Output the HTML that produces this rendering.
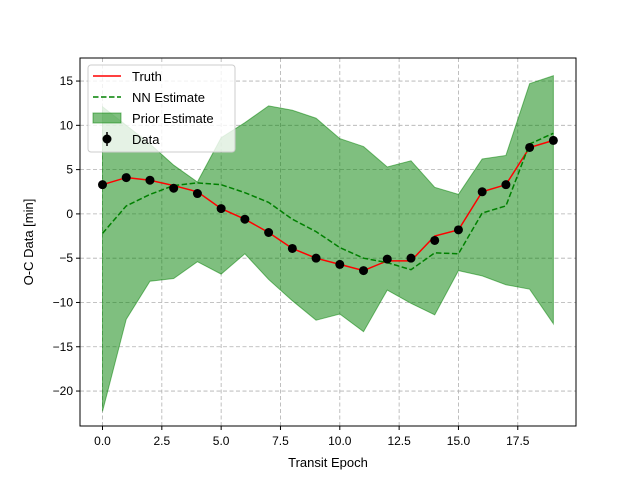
<!DOCTYPE html>
<html><head><meta charset="utf-8"><style>body{margin:0;background:#fff}svg{font-family:"Liberation Sans","DejaVu Sans",sans-serif}</style></head>
<body>
<svg id="chart" width="640" height="480" viewBox="0 0 640 480">
<g id="grid"></g>
<g id="marks"></g>
<rect x="80" y="58" width="496" height="368" fill="none" stroke="#000" stroke-width="1"/>
<g id="ticks"></g>
<text x="328" y="467" font-size="13" text-anchor="middle">Transit Epoch</text>
<text x="33" y="242" font-size="13" text-anchor="middle" transform="rotate(-90 33 242)">O-C Data [min]</text>
<g>
<rect x="88" y="65" width="147" height="87" rx="3" fill="#fff" fill-opacity="0.8" stroke="#ccc"/>
<line x1="93" y1="76" x2="121" y2="76" stroke="red" stroke-width="1.5"/>
<text x="132" y="81" font-size="13">Truth</text>
<line x1="93" y1="97" x2="121" y2="97" stroke="green" stroke-width="1.5" stroke-dasharray="5.5,2.5"/>
<text x="132" y="102" font-size="13">NN Estimate</text>
<rect x="93" y="113" width="28" height="10" fill="green" fill-opacity="0.5" stroke="green" stroke-opacity="0.5"/>
<text x="132" y="123" font-size="13">Prior Estimate</text>
<line x1="107" y1="132" x2="107" y2="146" stroke="#000" stroke-width="1.5"/>
<circle cx="107" cy="139" r="4.5" fill="#000"/>
<text x="132" y="144" font-size="13">Data</text>
</g>
</svg>
<script>
const epochs=[0,1,2,3,4,5,6,7,8,9,10,11,12,13,14,15,16,17,18,19];
const dataVals=[3.3,4.1,3.8,2.9,2.3,0.6,-0.6,-2.1,-3.9,-5.0,-5.7,-6.4,-5.1,-5.0,-3.0,-1.8,2.5,3.3,7.5,8.3];
const truthVals=[3.3,4.1,3.8,3.2,2.5,0.6,-0.6,-2.1,-3.9,-5.0,-5.7,-6.4,-5.3,-5.3,-2.5,-1.8,2.5,3.3,7.5,8.3];
const nnVals=[-2.2,0.9,2.2,3.2,3.5,3.3,2.4,1.3,-0.6,-2.0,-3.8,-5.0,-5.5,-6.3,-4.4,-4.5,0.1,0.9,7.9,9.1];
const upperVals=[12.1,10.0,7.9,5.5,3.6,8.6,10.3,12.2,11.7,10.8,8.5,7.6,5.3,6.0,3.0,2.2,6.2,6.6,14.7,15.6];
const lowerVals=[-22.3,-11.9,-7.6,-7.3,-5.4,-6.8,-4.5,-7.4,-9.8,-12.0,-11.3,-13.3,-8.6,-10.1,-11.4,-6.4,-7.0,-8.0,-8.5,-12.4];
const xTicks=[0,2.5,5,7.5,10,12.5,15,17.5];
const xTickLabels=["0.0","2.5","5.0","7.5","10.0","12.5","15.0","17.5"];
const yTicks=[-20,-15,-10,-5,0,5,10,15];
const yTickLabels=["\u221220","\u221215","\u221210","\u22125","0","5","10","15"];
const NS="http://www.w3.org/2000/svg";
const X=v=>102.5+v*23.73, Y=v=>213.9-v*8.857;
function mk(t,a,p){const e=document.createElementNS(NS,t);for(const k in a)e.setAttribute(k,a[k]);p.appendChild(e);return e;}
const grid=document.getElementById('grid'),marks=document.getElementById('marks'),ticks=document.getElementById('ticks');
xTicks.forEach((v,i)=>{
 const g=mk('line',{x1:X(v),x2:X(v),y1:58,y2:426,stroke:'#b0b0b0','stroke-dasharray':'4,2.5','stroke-width':0.8},grid);
 
 
 const t=mk('line',{x1:X(v),x2:X(v),y1:426,y2:430,stroke:'#000'},ticks);
 
 
 const l=mk('text',{x:X(v),y:445,'font-size':12,'text-anchor':'middle'},ticks);l.textContent=xTickLabels[i];
 
 
});
yTicks.forEach((v,i)=>{
 const g=mk('line',{x1:80,x2:576,y1:Y(v),y2:Y(v),stroke:'#b0b0b0','stroke-dasharray':'4,2.5','stroke-width':0.8},grid);
 
 
 const t=mk('line',{x1:76,x2:80,y1:Y(v),y2:Y(v),stroke:'#000'},ticks);
 
 
 const l=mk('text',{x:73,y:Y(v)+4,'font-size':12,'text-anchor':'end'},ticks);l.textContent=yTickLabels[i];
 
 
});
let pts=epochs.map((e,i)=>X(e)+','+Y(upperVals[i]));
for(let i=epochs.length-1;i>=0;i--)pts.push(X(epochs[i])+','+Y(lowerVals[i]));
const band=mk('polygon',{points:pts.join(' '),fill:'green','fill-opacity':0.5,stroke:'green','stroke-opacity':0.5},marks);


const tl=mk('polyline',{points:epochs.map((e,i)=>X(e)+','+Y(truthVals[i])).join(' '),fill:'none',stroke:'red','stroke-width':1.5},marks);


const nl=mk('polyline',{points:epochs.map((e,i)=>X(e)+','+Y(nnVals[i])).join(' '),fill:'none',stroke:'green','stroke-width':1.5,'stroke-dasharray':'5.5,2.5'},marks);


epochs.forEach((e,i)=>{
 const c=mk('circle',{cx:X(e),cy:Y(dataVals[i]),r:4.5,fill:'#000'},marks);
 
 
});
</script>
</body></html>
